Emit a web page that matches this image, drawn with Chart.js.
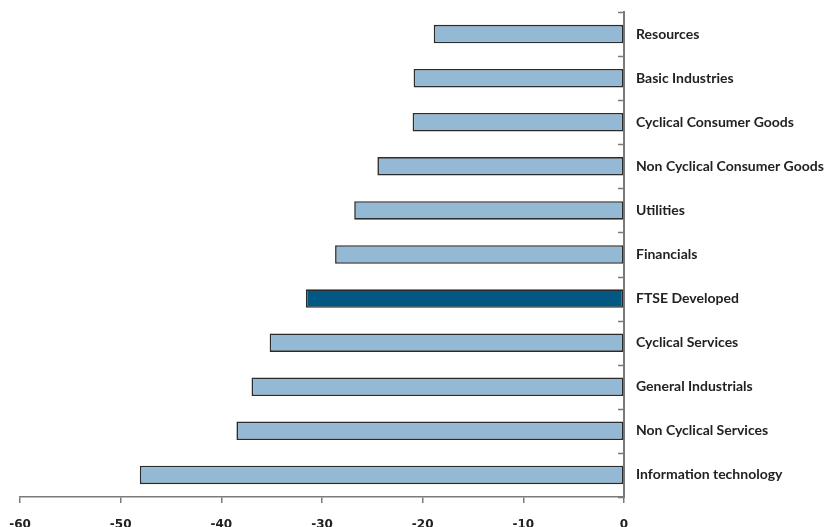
<!DOCTYPE html>
<html>
<head>
<meta charset="utf-8">
<script src="https://cdn.jsdelivr.net/npm/chart.js@4.4.1/dist/chart.umd.min.js"></script>
<style>
  html, body { margin: 0; padding: 0; background: #ffffff; }
  #wrap { width: 827px; height: 527px; position: relative; }
</style>
</head>
<body>
<div id="wrap"><canvas id="c" width="827" height="527"></canvas></div>
<script>
// Sector returns (%), top to bottom
const sectors = [
  'Resources',
  'Basic Industries',
  'Cyclical Consumer Goods',
  'Non Cyclical Consumer Goods',
  'Utilities',
  'Financials',
  'FTSE Developed',
  'Cyclical Services',
  'General Industrials',
  'Non Cyclical Services',
  'Information technology'
];
const returns = [-18.9, -20.9, -21.0, -24.5, -26.8, -28.7, -31.6, -35.2, -37.0, -38.5, -48.1];
const benchmark = 'FTSE Developed';
const xTicks = [-60, -50, -40, -30, -20, -10, 0];

const LIGHT = '#94b9d4';
const DARK = '#005883';
const AXIS = '#7a7a7a';

const barColors = sectors.map(s => s === benchmark ? DARK : LIGHT);

// short tick marks on the left of the zero line, at category boundaries
const categoryTicks = {
  id: 'categoryTicks',
  afterDraw(chart) {
    const x = chart.scales.x, y = chart.scales.y;
    const ctx = chart.ctx;
    const x0 = x.getPixelForValue(0);
    ctx.save();
    ctx.strokeStyle = AXIS;
    ctx.lineWidth = 1.5;
    ctx.beginPath();
    for (let i = 0; i <= sectors.length; i++) {
      const py = Math.round(y.getPixelForValue(i - 0.5)) + 0.5;
      ctx.moveTo(x0 - 6, py);
      ctx.lineTo(x0, py);
    }
    ctx.stroke();
    ctx.restore();
  }
};

new Chart(document.getElementById('c'), {
  type: 'bar',
  data: {
    labels: sectors,
    datasets: [{
      data: returns,
      backgroundColor: barColors,
      borderColor: '#2b2b2b',
      borderWidth: 1.6,
      borderSkipped: false,
      categoryPercentage: 1,
      barPercentage: 0.42
    }]
  },
  options: {
    indexAxis: 'y',
    responsive: false,
    animation: false,
    layout: { padding: { left: 20, top: 12, right: 0, bottom: 0 } },
    plugins: { legend: { display: false }, tooltip: { enabled: false } },
    scales: {
      x: {
        min: xTicks[0],
        max: xTicks[xTicks.length - 1],
        afterBuildTicks(scale) { scale.ticks = xTicks.map(v => ({ value: v })); },
        afterFit(scale) {
          scale.height = 30;
          scale.paddingLeft = 0;
          scale.paddingRight = 0;
        },
        grid: { drawOnChartArea: false, drawTicks: true, tickLength: 6, color: AXIS, lineWidth: 1.5 },
        border: { display: true, color: AXIS, width: 1.5 },
        ticks: {
          padding: 15,
          color: '#222',
          font: { family: 'DejaVu Sans', weight: 'bold', size: 12 },
          maxRotation: 0
        }
      },
      y: {
        position: 'right',
        offset: true,
        afterFit(scale) {
          scale.width = 203;
          scale.paddingTop = 0;
          scale.paddingBottom = 0;
        },
        grid: { display: true, drawOnChartArea: false, drawTicks: false },
        border: { display: true, color: AXIS, width: 2 },
        ticks: {
          padding: 12,
          color: '#222',
          font: { family: 'Lato', weight: 'bold', size: 14 }
        }
      }
    }
  },
  plugins: [categoryTicks]
});
</script>
</body>
</html>
